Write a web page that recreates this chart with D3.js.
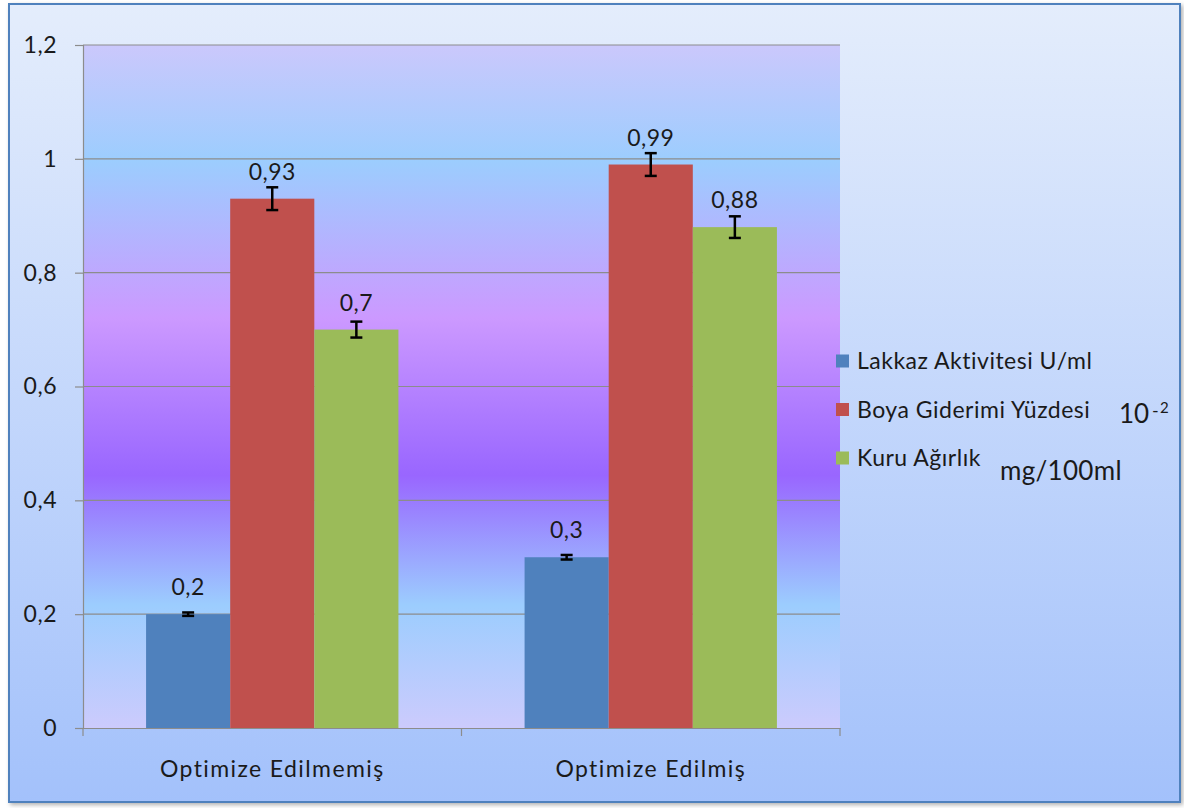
<!DOCTYPE html>
<html lang="tr">
<head>
<meta charset="utf-8">
<title>Optimize grafik</title>
<script src="https://d3js.org/d3.v7.min.js"></script>
<style>
  html, body { margin: 0; padding: 0; background: #ffffff; }
  svg text { font-family: Lato, "Open Sans", sans-serif; fill: #1a1a1a; }
</style>
</head>
<body>
<script>
// data
const categories = ["Optimize Edilmemiş", "Optimize Edilmiş"];
const seriesNames = ["Lakkaz Aktivitesi U/ml", "Boya Giderimi Yüzdesi", "Kuru Ağırlık"];
const seriesColors = ["#4f81bd", "#c0504d", "#9bbb59"];
const values = [
  [0.2, 0.93, 0.7],
  [0.3, 0.99, 0.88]
];
const errors = [
  [0.003, 0.02, 0.014],
  [0.004, 0.02, 0.019]
];
const yTicks = [0, 0.2, 0.4, 0.6, 0.8, 1, 1.2];

const W = 1184, H = 808;
const plot = {left: 83, right: 840, top: 45, bottom: 728};
const FS = 23;

const svg = d3.select("body").append("svg")
  .attr("width", W).attr("height", H);

const defs = svg.append("defs");

// outer background gradient
const bg = defs.append("linearGradient").attr("id", "bgGrad")
  .attr("x1", 0).attr("y1", 0).attr("x2", 0).attr("y2", 1);
bg.append("stop").attr("offset", "0%").attr("stop-color", "#e4edfc");
bg.append("stop").attr("offset", "100%").attr("stop-color", "#a3c1fb");

// plot area gradient
const pg = defs.append("linearGradient").attr("id", "plotGrad")
  .attr("x1", 0).attr("y1", 0).attr("x2", 0).attr("y2", 1);
[["0%", "#cbc8fc"], ["17%", "#9ccdfe"], ["40%", "#cc99ff"], ["63%", "#9966ff"],
 ["82%", "#9ccdfe"], ["100%", "#cccbfd"]].forEach(s =>
  pg.append("stop").attr("offset", s[0]).attr("stop-color", s[1]));

const shadow = defs.append("filter").attr("id", "shadow")
  .attr("x", "-2%").attr("y", "-2%").attr("width", "104%").attr("height", "104%");
shadow.append("feDropShadow").attr("dx", 2).attr("dy", 2).attr("stdDeviation", 2)
  .attr("flood-color", "#000").attr("flood-opacity", 0.3);

svg.append("rect")
  .attr("x", 9).attr("y", 4).attr("width", 1171).attr("height", 798)
  .attr("fill", "url(#bgGrad)")
  .attr("stroke", "#4f81bd").attr("stroke-width", 2)
  .attr("filter", "url(#shadow)");

const y = d3.scaleLinear().domain([0, 1.2]).range([plot.bottom, plot.top]);
const x0 = d3.scaleBand().domain(categories).range([plot.left, plot.right]);
const x1 = d3.scaleBand().domain(d3.range(seriesNames.length))
  .range([0, x0.bandwidth()]).paddingOuter(0.75).paddingInner(0);

svg.append("rect")
  .attr("x", plot.left).attr("y", plot.top)
  .attr("width", plot.right - plot.left).attr("height", plot.bottom - plot.top)
  .attr("fill", "url(#plotGrad)");

// gridlines
svg.append("g").selectAll("line")
  .data(yTicks.filter(t => t > 0))
  .join("line")
  .attr("x1", plot.left).attr("x2", plot.right)
  .attr("y1", d => y(d)).attr("y2", d => y(d))
  .attr("stroke", "#8c8c8c").attr("stroke-width", 1.2);

// y axis
const fmt = d => String(d).replace(".", ",");
const yAxis = svg.append("g")
  .attr("transform", `translate(${plot.left},0)`)
  .call(d3.axisLeft(y).tickValues(yTicks).tickFormat(fmt).tickSize(8).tickPadding(18));
yAxis.select(".domain").attr("stroke", "#8c8c8c").attr("stroke-width", 1.2);
yAxis.selectAll(".tick line").attr("stroke", "#8c8c8c").attr("stroke-width", 1.2);
yAxis.selectAll(".tick text").attr("font-size", FS).attr("fill", "#1a1a1a")
  .attr("font-family", "Lato, sans-serif").attr("letter-spacing", 0.5);

// x axis
const xAxis = svg.append("g")
  .attr("transform", `translate(0,${plot.bottom})`)
  .call(d3.axisBottom(x0).tickSize(0).tickPadding(33));
xAxis.select(".domain").attr("stroke", "#8c8c8c").attr("stroke-width", 1.2);
xAxis.selectAll(".tick text").attr("font-size", FS).attr("fill", "#1a1a1a")
  .attr("font-family", "Lato, sans-serif").attr("letter-spacing", 1.4);
svg.append("g").selectAll("line")
  .data([plot.left, x0(categories[1]), plot.right])
  .join("line")
  .attr("x1", d => d).attr("x2", d => d)
  .attr("y1", plot.bottom).attr("y2", plot.bottom + 8)
  .attr("stroke", "#8c8c8c").attr("stroke-width", 1.2);

// bars
const rows = [];
categories.forEach((c, ci) => values[ci].forEach((v, si) =>
  rows.push({c, si, v, e: errors[ci][si]})));

const bars = svg.append("g");
bars.selectAll("rect").data(rows).join("rect")
  .attr("x", d => x0(d.c) + x1(d.si))
  .attr("y", d => y(d.v))
  .attr("width", x1.bandwidth())
  .attr("height", d => y(0) - y(d.v))
  .attr("fill", d => seriesColors[d.si]);

// error bars
const eb = svg.append("g").attr("stroke", "#000").attr("stroke-width", 2.5);
rows.forEach(d => {
  const cx = x0(d.c) + x1(d.si) + x1.bandwidth() / 2;
  eb.append("line").attr("x1", cx).attr("x2", cx)
    .attr("y1", y(d.v + d.e)).attr("y2", y(d.v - d.e));
  [d.v + d.e, d.v - d.e].forEach(t =>
    eb.append("line").attr("x1", cx - 6).attr("x2", cx + 6)
      .attr("y1", y(t)).attr("y2", y(t)));
});

// value labels
svg.append("g").selectAll("text").data(rows).join("text")
  .attr("x", d => x0(d.c) + x1(d.si) + x1.bandwidth() / 2)
  .attr("y", d => y(d.v) - 19)
  .attr("text-anchor", "middle")
  .attr("font-size", FS)
  .attr("letter-spacing", 0.5)
  .text(d => fmt(d.v));

// legend
const legend = svg.append("g").attr("transform", "translate(836,361)");
seriesNames.forEach((name, i) => {
  const g = legend.append("g").attr("transform", `translate(0,${i * 48.5})`);
  g.append("rect").attr("x", 0).attr("y", -6.5).attr("width", 13).attr("height", 13)
    .attr("fill", seriesColors[i]);
  g.append("text").attr("x", 21).attr("y", 8).attr("font-size", FS)
    .attr("letter-spacing", 0.5).text(name);
});

// extra notes
svg.append("text").attr("x", 1119).attr("y", 423).attr("font-size", 26).text("10");
svg.append("text").attr("x", 1152).attr("y", 417).attr("font-size", 18).text("-");
svg.append("text").attr("x", 1160).attr("y", 413).attr("font-size", 15).text("2");
svg.append("text").attr("x", 1000).attr("y", 480).attr("font-size", 26)
  .attr("letter-spacing", 0.3).text("mg/100ml");
</script>
</body>
</html>
